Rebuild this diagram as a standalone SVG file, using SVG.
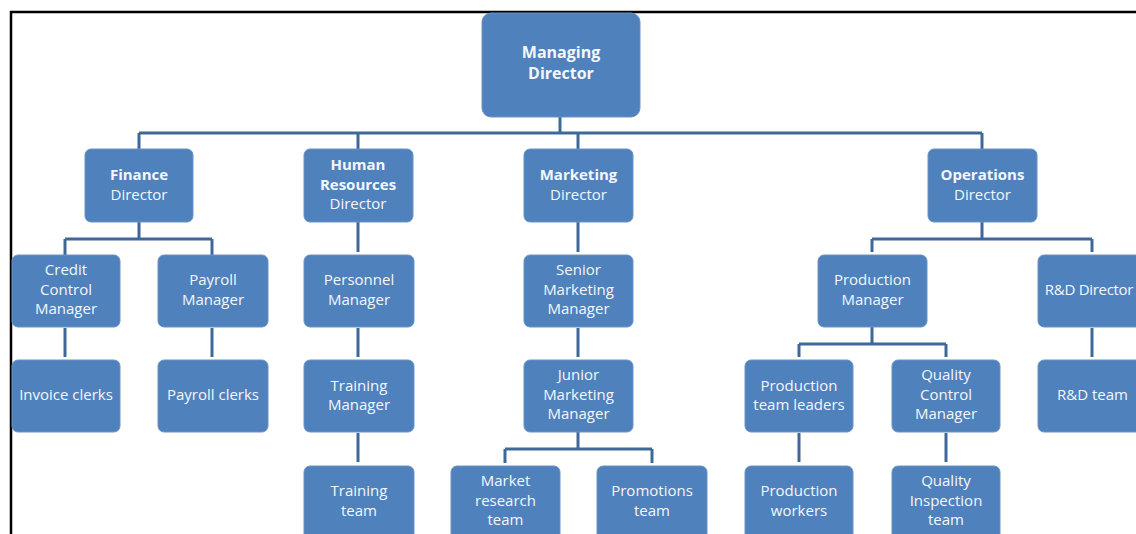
<svg xmlns="http://www.w3.org/2000/svg" width="1136" height="534" viewBox="0 0 1136 534">
  <style>
    .box { fill: #4F81BD; stroke: #6A93C6; stroke-width: 1; }
    .lbl { font-family: "Open Sans", "Liberation Sans", sans-serif; font-size: 15px; fill: #F4F7FB; text-anchor: middle; }
    .b { font-weight: bold; }
    .big { font-size: 16px; font-weight: bold; }
    .wire { fill: none; stroke: #3F6899; stroke-width: 3; stroke-linecap: butt; stroke-linejoin: miter; }
  </style>

  <rect width="1136" height="534" fill="#FFFFFF"/>
  <!-- outer frame -->
  <rect x="11" y="12" width="1200" height="600" fill="none" stroke="#000000" stroke-width="2.5"/>

  <g id="connectors">
    <!-- top level -->
    <path class="wire" d="M560,117 V133 M139,133 H982 M139,133 V149 M358,133 V149 M578,133 V149 M982,133 V149"/>
    <!-- finance -->
    <path class="wire" d="M139,222 V239 M65,239 H212 M65,239 V255 M212,239 V255"/>
    <path class="wire" d="M65,328 V357 M212,328 V357"/>
    <!-- human resources -->
    <path class="wire" d="M358,222 V252 M358,328 V357 M358,433 V462"/>
    <!-- marketing -->
    <path class="wire" d="M578,222 V252 M578,328 V357 M578,432 V449 M505,449 H652 M505,449 V463 M652,449 V463"/>
    <!-- operations -->
    <path class="wire" d="M982,222 V239 M872,239 H1092 M872,239 V252 M1092,239 V252"/>
    <path class="wire" d="M872,327 V344 M799,344 H946 M799,344 V357 M946,344 V357"/>
    <path class="wire" d="M799,433 V462 M946,433 V462 M1092,328 V357"/>
  </g>

  <g id="managing-director">
    <rect class="box" x="482" y="13" width="158" height="104" rx="9"/>
    <text class="lbl big" x="561" y="58">Managing</text>
    <text class="lbl big" x="561" y="79">Director</text>
  </g>

  <g id="finance-director">
    <rect class="box" x="85" y="149" width="108" height="73" rx="6"/>
    <text class="lbl b" x="139" y="180">Finance</text>
    <text class="lbl" x="139" y="200">Director</text>
  </g>
  <g id="hr-director">
    <rect class="box" x="304" y="149" width="109" height="73" rx="6"/>
    <text class="lbl b" x="358" y="170">Human</text>
    <text class="lbl b" x="358" y="190">Resources</text>
    <text class="lbl" x="358" y="209">Director</text>
  </g>
  <g id="marketing-director">
    <rect class="box" x="524" y="149" width="109" height="73" rx="6"/>
    <text class="lbl b" x="578.5" y="180">Marketing</text>
    <text class="lbl" x="578.5" y="200">Director</text>
  </g>
  <g id="operations-director">
    <rect class="box" x="928" y="149" width="109" height="73" rx="6"/>
    <text class="lbl b" x="982.5" y="180">Operations</text>
    <text class="lbl" x="982.5" y="200">Director</text>
  </g>

  <g id="credit-control-manager">
    <rect class="box" x="12" y="255" width="108" height="72" rx="6"/>
    <text class="lbl" x="66" y="275">Credit</text>
    <text class="lbl" x="66" y="295">Control</text>
    <text class="lbl" x="66" y="314">Manager</text>
  </g>
  <g id="payroll-manager">
    <rect class="box" x="158" y="255" width="110" height="72" rx="6"/>
    <text class="lbl" x="213" y="285">Payroll</text>
    <text class="lbl" x="213" y="305">Manager</text>
  </g>
  <g id="personnel-manager">
    <rect class="box" x="304" y="255" width="110" height="72" rx="6"/>
    <text class="lbl" x="359" y="285">Personnel</text>
    <text class="lbl" x="359" y="305">Manager</text>
  </g>
  <g id="senior-marketing-manager">
    <rect class="box" x="524" y="255" width="109" height="72" rx="6"/>
    <text class="lbl" x="578.5" y="275">Senior</text>
    <text class="lbl" x="578.5" y="295">Marketing</text>
    <text class="lbl" x="578.5" y="314">Manager</text>
  </g>
  <g id="production-manager">
    <rect class="box" x="818" y="255" width="109" height="72" rx="6"/>
    <text class="lbl" x="872.5" y="285">Production</text>
    <text class="lbl" x="872.5" y="305">Manager</text>
  </g>
  <g id="rd-director">
    <rect class="box" x="1038" y="255" width="109" height="72" rx="6"/>
    <text class="lbl" x="1089" y="295" letter-spacing="-0.3">R&amp;D Director</text>
  </g>

  <g id="invoice-clerks">
    <rect class="box" x="12" y="360" width="108" height="72" rx="6"/>
    <text class="lbl" x="66" y="400">Invoice clerks</text>
  </g>
  <g id="payroll-clerks">
    <rect class="box" x="158" y="360" width="110" height="72" rx="6"/>
    <text class="lbl" x="213" y="400">Payroll clerks</text>
  </g>
  <g id="training-manager">
    <rect class="box" x="304" y="360" width="110" height="72" rx="6"/>
    <text class="lbl" x="359" y="391">Training</text>
    <text class="lbl" x="359" y="410">Manager</text>
  </g>
  <g id="junior-marketing-manager">
    <rect class="box" x="524" y="360" width="109" height="72" rx="6"/>
    <text class="lbl" x="578.5" y="380">Junior</text>
    <text class="lbl" x="578.5" y="400">Marketing</text>
    <text class="lbl" x="578.5" y="419">Manager</text>
  </g>
  <g id="production-team-leaders">
    <rect class="box" x="745" y="360" width="108" height="72" rx="6"/>
    <text class="lbl" x="799" y="391">Production</text>
    <text class="lbl" x="799" y="410">team leaders</text>
  </g>
  <g id="quality-control-manager">
    <rect class="box" x="892" y="360" width="108" height="72" rx="6"/>
    <text class="lbl" x="946" y="380">Quality</text>
    <text class="lbl" x="946" y="400">Control</text>
    <text class="lbl" x="946" y="419">Manager</text>
  </g>
  <g id="rd-team">
    <rect class="box" x="1038" y="360" width="109" height="72" rx="6"/>
    <text class="lbl" x="1092.5" y="400">R&amp;D team</text>
  </g>

  <g id="training-team">
    <rect class="box" x="304" y="466" width="110" height="80" rx="6"/>
    <text class="lbl" x="359" y="496">Training</text>
    <text class="lbl" x="359" y="516">team</text>
  </g>
  <g id="market-research-team">
    <rect class="box" x="451" y="466" width="109" height="80" rx="6"/>
    <text class="lbl" x="505.5" y="486">Market</text>
    <text class="lbl" x="505.5" y="506">research</text>
    <text class="lbl" x="505.5" y="525">team</text>
  </g>
  <g id="promotions-team">
    <rect class="box" x="597" y="466" width="110" height="80" rx="6"/>
    <text class="lbl" x="652" y="496">Promotions</text>
    <text class="lbl" x="652" y="516">team</text>
  </g>
  <g id="production-workers">
    <rect class="box" x="745" y="466" width="108" height="80" rx="6"/>
    <text class="lbl" x="799" y="496">Production</text>
    <text class="lbl" x="799" y="516">workers</text>
  </g>
  <g id="quality-inspection-team">
    <rect class="box" x="892" y="466" width="108" height="80" rx="6"/>
    <text class="lbl" x="946" y="486">Quality</text>
    <text class="lbl" x="946" y="506">Inspection</text>
    <text class="lbl" x="946" y="525">team</text>
  </g>
</svg>
